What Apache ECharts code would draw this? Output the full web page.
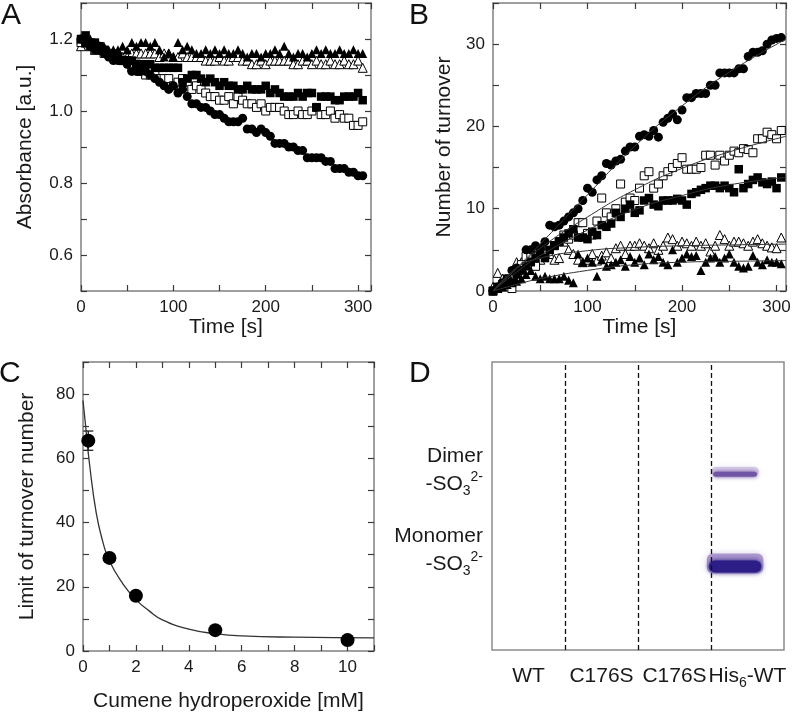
<!DOCTYPE html>
<html>
<head>
<meta charset="utf-8">
<script src="https://cdn.jsdelivr.net/npm/echarts@6/dist/echarts.min.js"></script>
<style>html,body{margin:0;padding:0;background:#fff}#main{width:800px;height:714px}</style>
</head>
<body>
<div id="main"></div>
<script>
// sampling times (s) for panels A and B
var times = [0, 5, 10, 15, 20, 25, 30, 35, 40, 45,
    50, 55, 60, 65, 70, 75, 80, 85, 90, 95,
    100, 105, 110, 115, 120, 125, 130, 135, 140, 145,
    150, 155, 160, 165, 170, 175, 180, 185, 190, 195,
    200, 205, 210, 215, 220, 225, 230, 235, 240, 245,
    250, 255, 260, 265, 270, 275, 280, 285, 290, 295,
    300, 305];

// A: absorbance
var absCircle = [1.20, 1.19, 1.18, 1.17, 1.17, 1.16, 1.15, 1.14, 1.14, 1.14,
    1.13, 1.11, 1.11, 1.11, 1.11, 1.10, 1.09, 1.08, 1.07, 1.06,
    1.07, 1.05, 1.06, 1.04, 1.02, 1.02, 1.01, 1.01, 1.00, 0.99,
    0.99, 0.98, 0.97, 0.97, 0.97, 0.98, 0.95, 0.95, 0.94, 0.95,
    0.94, 0.93, 0.91, 0.91, 0.91, 0.90, 0.90, 0.89, 0.89, 0.87,
    0.87, 0.87, 0.87, 0.86, 0.86, 0.84, 0.84, 0.84, 0.83, 0.83,
    0.82, 0.82];
var absSquare = [1.20, 1.21, 1.19, 1.19, 1.18, 1.17, 1.16, 1.16, 1.15, 1.14,
    1.14, 1.14, 1.13, 1.13, 1.13, 1.13, 1.12, 1.12, 1.12, 1.12,
    1.12, 1.12, 1.08, 1.09, 1.10, 1.10, 1.09, 1.08, 1.09, 1.08,
    1.07, 1.08, 1.07, 1.07, 1.06, 1.06, 1.07, 1.06, 1.06, 1.06,
    1.07, 1.05, 1.06, 1.05, 1.04, 1.04, 1.04, 1.05, 1.04, 1.05,
    1.05, 1.01, 1.04, 1.04, 1.04, 1.03, 1.03, 1.04, 1.04, 1.04,
    1.05, 1.03];
var absOpenSquare = [1.19, 1.19, 1.18, 1.17, 1.17, 1.16, 1.16, 1.15, 1.15, 1.14,
    1.14, 1.12, 1.13, 1.11, 1.10, 1.10, 1.10, 1.09, 1.09, 1.09,
    1.07, 1.08, 1.09, 1.08, 1.06, 1.07, 1.06, 1.05, 1.04, 1.04,
    1.03, 1.03, 1.04, 1.02, 1.04, 1.03, 1.02, 1.02, 1.01, 1.02,
    1.00, 1.01, 1.01, 1.01, 1.00, 0.99, 0.99, 1.00, 0.99, 0.99,
    1.00, 1.01, 0.99, 0.99, 1.00, 0.98, 0.99, 0.98, 0.98, 0.96,
    0.96, 0.97];
var absOpenTri = [1.18, 1.19, 1.18, 1.17, 1.18, 1.17, 1.16, 1.16, 1.15, 1.15,
    1.15, 1.16, 1.16, 1.16, 1.16, 1.16, 1.16, 1.15, 1.16, 1.16,
    1.15, 1.15, 1.16, 1.15, 1.15, 1.15, 1.15, 1.14, 1.14, 1.14,
    1.15, 1.14, 1.14, 1.15, 1.15, 1.14, 1.14, 1.13, 1.13, 1.14,
    1.13, 1.14, 1.14, 1.14, 1.14, 1.14, 1.13, 1.13, 1.14, 1.14,
    1.13, 1.14, 1.13, 1.13, 1.14, 1.13, 1.13, 1.14, 1.13, 1.13,
    1.14, 1.12];
var absTri = [1.20, 1.19, 1.20, 1.19, 1.18, 1.18, 1.17, 1.17, 1.17, 1.18,
    1.17, 1.19, 1.18, 1.19, 1.19, 1.18, 1.19, 1.17, 1.15, 1.16,
    1.15, 1.19, 1.17, 1.18, 1.17, 1.16, 1.16, 1.17, 1.16, 1.17,
    1.16, 1.17, 1.16, 1.16, 1.17, 1.16, 1.15, 1.16, 1.16, 1.15,
    1.16, 1.16, 1.17, 1.16, 1.18, 1.16, 1.15, 1.16, 1.16, 1.15,
    1.16, 1.17, 1.16, 1.17, 1.16, 1.16, 1.17, 1.16, 1.16, 1.17,
    1.16, 1.16];

// B: number of turnover
var tonCircle = [0, 0.5, 1.0, 1.5, 2.5, 2.8, 2.5, 5.0, 5.0, 5.5,
    5.2, 6.0, 8.0, 7.8, 8.0, 8.5, 9.0, 9.5, 10.0, 11.0,
    12.5, 12.0, 13.5, 14.0, 15.5, 15.3, 15.8, 16.0, 17.0, 17.5,
    17.5, 18.8, 19.0, 18.8, 19.5, 18.7, 20.5, 21.0, 21.5, 20.8,
    22.0, 23.5, 23.5, 24.0, 24.0, 24.0, 25.0, 25.0, 26.5, 26.5,
    26.5, 26.5, 27.0, 27.0, 28.5, 29.0, 29.0, 29.2, 30.0, 30.5,
    30.7, 30.8];
var tonOpenSquare = [0, 0.3, 0.8, 1.2, 0.3, 2.5, 3.2, 4.2, 4.5, 3.0,
    5.0, 4.5, 5.5, 5.5, 6.0, 6.8, 6.3, 6.8, 8.3, 8.3,
    7.0, 6.8, 8.5, 11.3, 9.5, 9.0, 10.0, 13.0, 10.8, 11.3,
    11.0, 12.5, 14.0, 14.5, 12.5, 13.0, 14.0, 14.5, 15.0, 15.5,
    16.2, 14.8, 14.8, 14.8, 15.0, 16.5, 16.5, 15.3, 16.5, 15.8,
    16.5, 17.0, 16.8, 17.3, 17.2, 16.8, 18.5, 18.5, 19.3, 19.0,
    18.5, 19.5];
var tonSquare = [0, 0.5, 0.5, 1.5, 1.0, 2.0, 2.5, 3.0, 3.5, 4.0,
    4.5, 4.0, 5.0, 5.5, 6.0, 6.5, 7.0, 7.5, 6.5, 6.5,
    6.3, 7.2, 6.8, 8.0, 7.8, 8.2, 9.5, 9.0, 10.0, 10.5,
    9.5, 9.8, 11.0, 11.3, 10.5, 10.3, 11.0, 11.0, 11.0, 11.2,
    11.0, 10.5, 11.8, 12.0, 12.3, 12.5, 12.8, 12.8, 12.5, 12.8,
    12.5, 12.0, 14.8, 12.5, 13.0, 13.5, 13.8, 13.2, 13.0, 13.3,
    12.5, 13.8];
var tonOpenTri = [0.5, 2.2, 1.5, 1.0, 2.0, 3.5, 3.5, 4.0, 4.5, 4.3,
    3.8, 4.5, 4.5, 3.8, 4.0, 6.0, 5.0, 4.5, 3.8, 3.5,
    3.8, 4.5, 3.7, 4.3, 4.7, 4.0, 5.2, 5.5, 4.5, 5.5,
    5.5, 5.8, 5.5, 5.2, 5.8, 5.0, 5.5, 6.5, 6.3, 5.5,
    6.0, 5.8, 5.5, 6.0, 5.5, 5.8, 4.8, 5.5, 6.8, 6.3,
    5.5, 6.0, 6.0, 5.8, 5.5, 6.0, 6.3, 5.8, 5.5, 5.3,
    5.2, 6.5];
var tonTri = [0, 0.3, 0.5, 0.8, 1.0, 1.2, 1.5, 2.0, 2.5, 1.8,
    1.5, 1.8, 1.5, 1.5, 1.5, 1.8, 1.3, 1.0, 4.5, 3.5,
    4.0, 3.5, 1.8, 3.8, 3.0, 3.2, 3.5, 3.8, 3.0, 4.2,
    3.5, 4.0, 3.2, 4.5, 3.8, 4.2, 3.5, 3.2, 5.0, 3.5,
    4.0, 4.5, 4.2, 4.3, 2.5, 3.5, 4.0, 4.2, 3.5, 4.0,
    4.5, 3.5, 3.0, 2.8, 3.0, 4.3, 3.5, 3.2, 3.8, 3.5,
    3.5, 3.3];

// B: fitted curves
var fitT = [0, 25, 50, 100, 150, 200, 250, 310];
var fitCircle = [0, 2.8, 5.7, 11.7, 17.6, 22.5, 26.6, 30.6];
var fitOpenSquare = [0, 2.7, 5.2, 9.0, 12.3, 14.9, 16.9, 18.8];
var fitSquare = [0, 2.3, 4.3, 7.4, 9.9, 11.6, 12.9, 13.8];
var fitOpenTri = [0, 2.8, 4.0, 4.9, 5.3, 5.5, 5.6, 5.7];
var fitTri = [0, 0.8, 1.5, 2.5, 3.2, 3.5, 3.6, 3.7];

// C: limit of turnover number vs cumene hydroperoxide
var chpConc = [0.2, 1, 2, 5, 10];
var limitTon = [65.5, 29, 17.2, 6.5, 3.4];
var limitErr = [3, 1.2, 1.2, 1.2, 1.2];
var curveX = [0, 0.1, 0.25, 0.5, 0.75, 1, 1.5, 2, 2.5, 3, 4, 5, 6, 8, 11];
var curveY = [78, 70, 58, 43, 34, 28, 21, 16, 12.5, 9.7, 6.8, 5.4, 4.7, 4.3, 4.1];

// D: blot
var laneNames = ['WT', 'C176S', 'C176S', 'His6-WT'];
var bandNames = ['Dimer', 'Monomer'];
var bandLane = [3.33, 3.33];
var bandY = [0.61, 0.29];
var labelY = [0.625, 0.347];
var laneBorders = [1, 2, 3];

var FONT = 'Liberation Sans, Arial, Helvetica, sans-serif';
var INK = '#1a1a1a';

function pairs(xs, ys) {
    var out = [];
    for (var i = 0; i < xs.length; i++) out.push([xs[i], ys[i]]);
    return out;
}

function axis(grid, pos, min, max, interval, fmt, name, gap) {
    return {
        type: 'value', gridIndex: grid, position: pos,
        min: min, max: max, interval: interval,
        axisLine: { show: true, onZero: false, lineStyle: { color: '#808080', width: 1.5 } },
        axisTick: { show: true, inside: true, length: 6, lineStyle: { color: '#3a3a3a', width: 1.2 } },
        axisLabel: {
            show: !!fmt, formatter: fmt, color: INK, fontSize: 17,
            fontFamily: FONT, margin: 8, showMaxLabel: true, showMinLabel: true
        },
        splitLine: { show: false },
        name: name || '', nameLocation: 'middle', nameGap: gap || 0,
        nameTextStyle: { fontSize: 21, color: INK, fontFamily: FONT }
    };
}

function scatter(name, xi, yi, data, symbol, open, size) {
    return {
        name: name, type: 'scatter', xAxisIndex: xi, yAxisIndex: yi,
        data: data, symbol: symbol, symbolSize: size || 8,
        itemStyle: open ? { color: '#fff', borderColor: '#000', borderWidth: 1, opacity: 1 } : { color: '#000', opacity: 1 },
        z: open ? 3 : 4
    };
}

function fitLine(name, data) {
    return {
        name: name, type: 'line', xAxisIndex: 2, yAxisIndex: 2, data: data,
        smooth: true, showSymbol: false, symbol: 'none',
        lineStyle: { color: '#333', width: 1 }, z: 5
    };
}

function renderErr(params, api) {
    var x = api.value(0);
    var lo = api.coord([x, api.value(1)]);
    var hi = api.coord([x, api.value(2)]);
    var st = { stroke: '#222', lineWidth: 1.3 };
    return {
        type: 'group', children: [
            { type: 'line', shape: { x1: lo[0], y1: lo[1], x2: hi[0], y2: hi[1] }, style: st },
            { type: 'line', shape: { x1: lo[0] - 5, y1: lo[1], x2: lo[0] + 5, y2: lo[1] }, style: st },
            { type: 'line', shape: { x1: hi[0] - 5, y1: hi[1], x2: hi[0] + 5, y2: hi[1] }, style: st }
        ]
    };
}

// band looks: index 0 = dimer (faint, thin), 1 = monomer (dark, thick)
var bandLook = [
    { w: 0.60, h: 5, core: '#6f55a3', halo: 'rgba(150,120,190,0.35)', haloH: 9 },
    { w: 0.72, h: 12, core: '#2c1e86', halo: 'rgba(120,90,175,0.55)', haloH: 20 }
];

function renderBand(params, api) {
    var look = bandLook[params.dataIndex];
    var c = api.coord([api.value(0), api.value(1)]);
    var w = api.size([look.w, 0])[0];
    return {
        type: 'group', children: [
            {
                type: 'rect',
                shape: { x: c[0] - w / 2 - 2, y: c[1] - look.haloH / 2 - 3, width: w + 4, height: look.haloH, r: 6 },
                style: { fill: look.halo, shadowBlur: 6, shadowColor: look.halo }
            },
            {
                type: 'rect',
                shape: { x: c[0] - w / 2, y: c[1] - look.h / 2, width: w, height: look.h, r: look.h / 2 },
                style: { fill: look.core, shadowBlur: 4, shadowColor: look.core }
            }
        ]
    };
}

var chart = echarts.init(document.getElementById('main'));

var errData = [];
for (var i = 0; i < chpConc.length; i++) {
    errData.push([chpConc[i], limitTon[i] - limitErr[i], limitTon[i] + limitErr[i]]);
}
var bandData = pairs(bandLane, bandY);
var labelData = [];
for (var j = 0; j < bandNames.length; j++) {
    labelData.push({ value: [0, labelY[j]], name: bandNames[j] });
}
// category keys are lane indices, so the two C176S lanes stay separate
var laneKeys = laneNames.map(function (n, k) { return String(k); });

var fmtA_x = function (v) { return v % 100 === 0 ? v : ''; };
var fmtA_y = function (v) {
    var k = Math.round(v * 10);
    return (k % 2 === 0 && k >= 6 && k <= 12) ? (k / 10).toFixed(1) : '';
};
var fmtB_y = function (v) { return v % 10 === 0 ? v : ''; };
var fmtC_x = function (v) { return v % 2 === 0 ? v : ''; };
var fmtC_y = function (v) { return (v % 20 === 0 && v <= 80) ? v : ''; };

var richText = {
    n: { fontSize: 21, fontFamily: FONT, color: INK, lineHeight: 28 },
    s: { fontSize: 14, fontFamily: FONT, color: INK, verticalAlign: 'bottom' },
    p: { fontSize: 14, fontFamily: FONT, color: INK, verticalAlign: 'top' }
};

var option = {
    animation: false,
    backgroundColor: '#fff',
    title: [
        { text: 'A', left: 1, top: 1 },
        { text: 'B', left: 409, top: 1 },
        { text: 'C', left: -1, top: 359 },
        { text: 'D', left: 409, top: 359 }
    ].map(function (t) {
        t.textStyle = { fontSize: 30, fontWeight: 'normal', color: '#111', fontFamily: FONT };
        t.padding = 0;
        return t;
    }),
    grid: [
        { left: 81, top: 3, width: 290, height: 288 },
        { left: 493, top: 3, width: 293, height: 288 },
        { left: 83, top: 362, width: 291, height: 289 },
        { left: 492, top: 362, width: 292, height: 288, show: true, borderColor: '#8c8c8c', borderWidth: 1.5 }
    ],
    xAxis: [
        axis(0, 'bottom', 0, 314, 50, fmtA_x, 'Time [s]', 25),
        axis(0, 'top', 0, 314, 50, null),
        axis(1, 'bottom', 0, 310, 50, fmtA_x, 'Time [s]', 25),
        axis(1, 'top', 0, 310, 50, null),
        axis(2, 'bottom', 0, 11, 1, fmtC_x, 'Cumene hydroperoxide [mM]', 40),
        axis(2, 'top', 0, 11, 1, null),
        { type: 'value', gridIndex: 3, min: 0, max: 4, show: false },
        {
            type: 'category', gridIndex: 3, position: 'bottom', data: laneKeys,
            axisLine: { show: false }, axisTick: { show: false },
            axisLabel: {
                margin: 12, interval: 0, hideOverlap: false, color: INK,
                formatter: function (v) {
                    var n = laneNames[+v];
                    return n === 'His6-WT' ? '{n|His}{s|6}{n|-WT}' : '{n|' + n + '}';
                },
                rich: richText
            }
        }
    ],
    yAxis: [
        axis(0, 'left', 0.5, 1.3, 0.1, fmtA_y, 'Absorbance [a.u.]', 45),
        axis(0, 'right', 0.5, 1.3, 0.1, null),
        axis(1, 'left', 0, 35, 5, fmtB_y, 'Number of turnover', 38),
        axis(1, 'right', 0, 35, 5, null),
        axis(2, 'left', 0, 90, 10, fmtC_y, 'Limit of turnover number', 45),
        axis(2, 'right', 0, 90, 10, null),
        { type: 'value', gridIndex: 3, min: 0, max: 1, show: false }
    ],
    series: [
        // A
        scatter('A open triangle', 0, 0, pairs(times, absOpenTri), 'triangle', true, 9),
        scatter('A triangle', 0, 0, pairs(times, absTri), 'triangle', false, 9),
        scatter('A open square', 0, 0, pairs(times, absOpenSquare), 'rect', true, 8),
        scatter('A square', 0, 0, pairs(times, absSquare), 'rect', false, 8.5),
        scatter('A circle', 0, 0, pairs(times, absCircle), 'circle', false, 9),
        // B
        scatter('B open triangle', 2, 2, pairs(times, tonOpenTri), 'triangle', true, 9),
        scatter('B triangle', 2, 2, pairs(times, tonTri), 'triangle', false, 9),
        scatter('B open square', 2, 2, pairs(times, tonOpenSquare), 'rect', true, 8),
        scatter('B square', 2, 2, pairs(times, tonSquare), 'rect', false, 8.5),
        scatter('B circle', 2, 2, pairs(times, tonCircle), 'circle', false, 9),
        fitLine('fit circle', pairs(fitT, fitCircle)),
        fitLine('fit open square', pairs(fitT, fitOpenSquare)),
        fitLine('fit square', pairs(fitT, fitSquare)),
        fitLine('fit open triangle', pairs(fitT, fitOpenTri)),
        fitLine('fit triangle', pairs(fitT, fitTri)),
        // C
        {
            name: 'C fit', type: 'line', xAxisIndex: 4, yAxisIndex: 4,
            data: pairs(curveX, curveY), smooth: true, showSymbol: false, symbol: 'none',
            lineStyle: { color: '#333', width: 1.3 }, z: 3
        },
        {
            name: 'C error', type: 'custom', xAxisIndex: 4, yAxisIndex: 4,
            data: errData, renderItem: renderErr, z: 4
        },
        scatter('C points', 4, 4, pairs(chpConc, limitTon), 'circle', false, 14),
        // D
        {
            name: 'bands', type: 'custom', xAxisIndex: 6, yAxisIndex: 6,
            data: bandData, renderItem: renderBand, clip: true
        },
        {
            name: 'band labels', type: 'scatter', xAxisIndex: 6, yAxisIndex: 6,
            data: labelData, symbolSize: 0, clip: false,
            itemStyle: { opacity: 1 },
            label: {
                show: true, position: 'left', distance: 9, align: 'right', color: INK, opacity: 1,
                formatter: function (p) {
                    return '{n|' + p.name + '}\n{n|-SO}{s|3}{p|2-}';
                },
                rich: richText
            },
            emphasis: { disabled: true },
            markLine: {
                silent: true, symbol: 'none',
                label: { show: false },
                lineStyle: { color: '#111', type: [5, 3], width: 1.3 },
                data: laneBorders.map(function (b) { return { xAxis: b }; })
            }
        }
    ]
};

chart.setOption(option);
</script>
</body>
</html>
